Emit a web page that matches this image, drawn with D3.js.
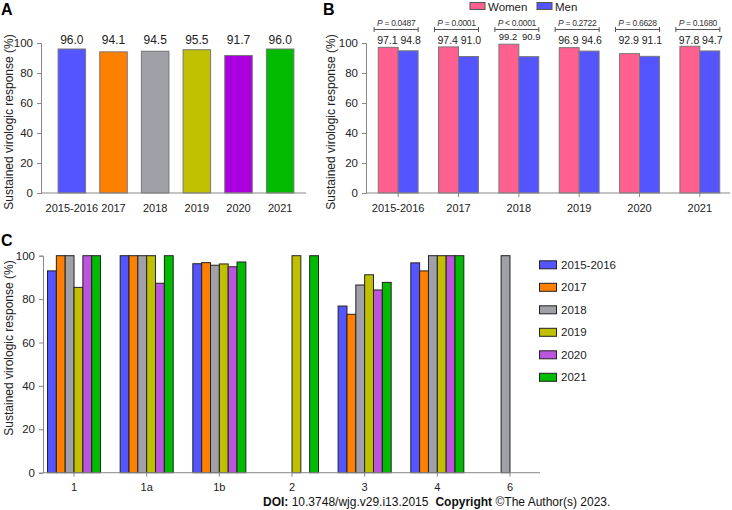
<!DOCTYPE html>
<html><head><meta charset="utf-8">
<script src="https://cdn.jsdelivr.net/npm/d3@7"></script>
<style>
body{margin:0;background:#fff;}
svg{display:block;font-family:'Liberation Sans',Arial,sans-serif;}
</style></head><body>
<svg id="c" width="732" height="510"></svg>
<script>
const years = ["2015-2016","2017","2018","2019","2020","2021"];
const overallSVR = [96.0,94.1,94.5,95.5,91.7,96.0];
const womenSVR = [97.1,97.4,99.2,96.9,92.9,97.8];
const menSVR = [94.8,91.0,90.9,94.6,91.1,94.7];
const pSign = ["=","=","<","=","=","="];
const pNum = ["0.0487","0.0001","0.0001","0.2722","0.6628","0.1680"];
const genotypes = ["1","1a","1b","2","3","4","6"];
const svr2015 = [93.0,100,96.3,null,76.8,96.7,null];
const svr2017 = [100,100,96.8,null,73.0,93.0,null];
const svr2018 = [100,100,95.6,null,86.5,100,100];
const svr2019 = [85.4,100,96.2,100,91.2,100,null];
const svr2020 = [100,87.3,94.9,null,84.2,100,null];
const svr2021 = [100,100,97.1,100,87.7,100,null];
const yTicks = [0,20,40,60,80,100];
const yLabel = "Sustained virologic response (%)";

const colA = ["#5555ff","#ff8000","#a0a0a8","#c0c000","#aa00dd","#00bb00"];
const colC = ["#5555ff","#ff8000","#a0a0a8","#c0c000","#bb55dd","#00bb00"];
const colSex = ["#ff6090","#5555ff"];

const svg = d3.select("#c");
const axisCol = "#888";

function yAxis(g, y, x0){
  const ax = g.append("g").attr("transform",`translate(${x0},0)`)
    .call(d3.axisLeft(y).tickValues(yTicks).tickSize(4).tickPadding(4));
  ax.select(".domain").attr("stroke",axisCol);
  ax.selectAll(".tick line").attr("stroke",axisCol);
  ax.selectAll(".tick text").attr("font-size",11.5).attr("fill","#222").attr("font-family","'Liberation Sans',sans-serif");
}
function xAxis(g, x, yPos, xa, xb, tick){
  const ax = g.append("g").attr("transform",`translate(0,${yPos})`)
    .call(d3.axisBottom(x).tickSize(tick).tickPadding(tick?7:11));
  ax.select(".domain").remove();
  ax.selectAll(".tick line").attr("stroke",axisCol);
  ax.selectAll(".tick text").attr("font-size",11).attr("fill","#222").attr("font-family","'Liberation Sans',sans-serif");
  g.append("line").attr("x1",xa).attr("x2",xb).attr("y1",yPos).attr("y2",yPos).attr("stroke",axisCol);
}
function title(t,x,y){
  svg.append("text").attr("x",x).attr("y",y).attr("font-size",16).attr("font-weight","bold").text(t);
}
function ylab(x,cy){
  svg.append("text").attr("transform",`translate(${x},${cy}) rotate(-90)`).attr("text-anchor","middle")
    .attr("font-size",12).attr("fill","#222").text(yLabel);
}

// ---------- Panel A ----------
{
  const g = svg.append("g");
  const y = d3.scaleLinear().domain([0,100]).range([193,43]);
  const x = d3.scaleBand().domain(years).range([51,301]).paddingInner(0.34).paddingOuter(0.17);
  yAxis(g,y,41);
  g.selectAll("rect").data(years).join("rect")
    .attr("x",d=>x(d)).attr("width",x.bandwidth())
    .attr("y",(d,i)=>y(overallSVR[i])).attr("height",(d,i)=>y(0)-y(overallSVR[i]))
    .attr("fill",(d,i)=>colA[i]).attr("stroke","#777").attr("stroke-width",1);
  g.selectAll(".vl").data(years).join("text").attr("class","vl")
    .attr("x",d=>x(d)+x.bandwidth()/2).attr("y",44).attr("text-anchor","middle")
    .attr("font-size",12).attr("fill","#222").text((d,i)=>overallSVR[i].toFixed(1));
  xAxis(g,x,193,41,306,0);
  title("A",1,15);
  ylab(13,122);
}

// ---------- Panel B ----------
{
  const g = svg.append("g");
  const y = d3.scaleLinear().domain([0,100]).range([193,43]);
  const x = d3.scaleBand().domain(years).range([368,730]).paddingInner(0.34).paddingOuter(0.17);
  const xs = d3.scaleBand().domain([0,1]).range([0,x.bandwidth()]);
  yAxis(g,y,366);
  const sex = [womenSVR, menSVR];
  const shift = [-0.8, 2.5];
  [0,1].forEach(s=>{
    g.selectAll(".b"+s).data(years).join("rect").attr("class","b"+s)
      .attr("x",d=>x(d)+xs(s)).attr("width",xs.bandwidth())
      .attr("y",(d,i)=>y(sex[s][i])).attr("height",(d,i)=>y(0)-y(sex[s][i]))
      .attr("fill",colSex[s]).attr("stroke","#777").attr("stroke-width",1);
    g.selectAll(".v"+s).data(years).join("text").attr("class","v"+s)
      .attr("x",d=>x(d)+xs(s)+xs.bandwidth()/2+shift[s])
      .attr("y",(d,i)=> i===2 ? 40 : 44).attr("text-anchor","middle")
      .attr("font-size",(d,i)=> i===2 ? 9.5 : 10.5).attr("fill","#222")
      .text((d,i)=>sex[s][i].toFixed(1));
  });
  // p-value brackets
  years.forEach((d,i)=>{
    const cx = x(d)+x.bandwidth()/2;
    const l = cx-24, r = cx+20;
    g.append("path").attr("d",`M${l},27V32M${l},29.5H${r}M${r},27V32`)
      .attr("stroke","#555").attr("fill","none").attr("stroke-width",1);
    const t = g.append("text").attr("x",(l+r)/2).attr("y",26).attr("text-anchor","middle")
      .attr("font-size",8.5).attr("letter-spacing",-0.3).attr("fill","#333");
    t.append("tspan").attr("font-style","italic").text("P");
    t.append("tspan").text(" "+pSign[i]+" "+pNum[i]);
  });
  xAxis(g,x,193,366,730,4);
  title("B",323,15);
  ylab(335,122);
  // legend
  const lg = g.append("g");
  const legNames = ["Women","Men"], legX = [470,537];
  legNames.forEach((n,k)=>{
    lg.append("rect").attr("x",legX[k]).attr("y",2.5).attr("width",15).attr("height",7)
      .attr("fill",colSex[k]).attr("stroke","#555");
    lg.append("text").attr("x",legX[k]+18).attr("y",10.5).attr("font-size",11.5)
      .attr("fill","#222").text(n);
  });
}

// ---------- Panel C ----------
{
  const g = svg.append("g");
  const y = d3.scaleLinear().domain([0,100]).range([472.7,255.7]);
  const x = d3.scaleBand().domain(genotypes).range([37.7,546.3]).paddingInner(0.27).paddingOuter(0.135);
  const xs = d3.scaleBand().domain(d3.range(6)).range([0,x.bandwidth()]);
  yAxis(g,y,43);
  const series = [svr2015,svr2017,svr2018,svr2019,svr2020,svr2021];
  series.forEach((vals,s)=>{
    g.selectAll(".c"+s).data(genotypes.filter((d,i)=>vals[i]!=null)).join("rect").attr("class","c"+s)
      .attr("x",d=>x(d)+xs(s)).attr("width",xs.bandwidth())
      .attr("y",d=>y(vals[genotypes.indexOf(d)]))
      .attr("height",d=>y(0)-y(vals[genotypes.indexOf(d)]))
      .attr("fill",colC[s]).attr("stroke","#222").attr("stroke-width",1);
  });
  xAxis(g,x,472.7,43,540,4);
  title("C",1,246);
  ylab(13,348);
  const lg = g.append("g");
  years.forEach((n,k)=>{
    const yy = 264.8 + k*22.5;
    lg.append("rect").attr("x",539.5).attr("y",yy-4).attr("width",17).attr("height",8)
      .attr("fill",colC[k]).attr("stroke","#222");
    lg.append("text").attr("x",561).attr("y",yy+4).attr("font-size",11.5)
      .attr("fill","#222").text(n);
  });
}

// ---------- footer ----------
{
  const t = svg.append("text").attr("x",263).attr("y",506).attr("font-size",12).attr("fill","#111");
  t.append("tspan").attr("font-weight","bold").text("DOI:");
  t.append("tspan").text(" 10.3748/wjg.v29.i13.2015");
  t.append("tspan").attr("dx",7).attr("font-weight","bold").text("Copyright");
  t.append("tspan").text(" ©The Author(s) 2023.");
}
</script></body></html>
